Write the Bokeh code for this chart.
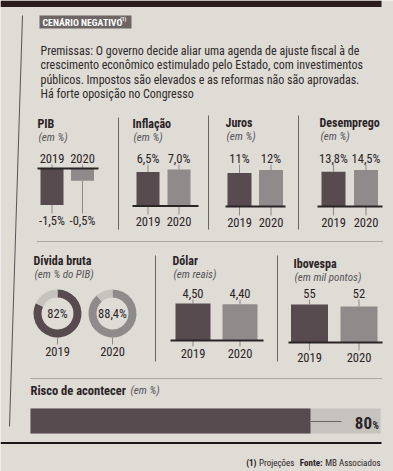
from bokeh.plotting import figure
from bokeh.models import Range1d
from bokeh.core.properties import value
from bokeh.embed import file_html
from bokeh.resources import INLINE
import math

# ---------------- data ----------------
years = ["2019", "2020"]
pib = [-1.5, -0.5]
inflacao = [6.5, 7.0]
juros = [11, 12]
desemprego = [13.8, 14.5]
divida = [82.0, 88.4]
dolar = [4.50, 4.40]
ibovespa = [55, 52]
risco = 80

paragraph = [
    "Premissas: O governo decide aliar uma agenda de ajuste fiscal à de",
    "crescimento econômico estimulado pelo Estado, com investimentos",
    "públicos. Impostos são elevados e as reformas não são aprovadas.",
    "Há forte oposição no Congresso",
]

def br(v, d=1, pct=True):
    s = f"{v:.{d}f}".replace(".", ",")
    return s + ("%" if pct else "")

# ---------------- style ----------------
BG = "#dfdbd5"
DARK = "#574b4f"
LIGHT = "#8f8b8a"
PALE = "#c6c2be"
INK = "#2a2426"
FONT = value("Roboto Condensed, DejaVu Sans Condensed, Roboto")

p = figure(width=393, height=471, output_backend="svg", toolbar_location=None,
           x_range=Range1d(0, 393), y_range=Range1d(471, 0), min_border=0)
p.axis.visible = False
p.grid.visible = False
p.outline_line_color = None
p.background_fill_color = BG
p.border_fill_color = BG

def txt(x, y, t, size=12, style="normal", color=INK, align="left", baseline="middle"):
    p.text(x=[x], y=[y], text=[t], text_font=FONT, text_font_size=f"{size}px",
           text_font_style=style, text_color=color, text_align=align,
           text_baseline=baseline)

# dark strip at the top of the page
p.quad(left=[0], right=[381], top=[0], bottom=[6.5], fill_color="#2b1c1d", line_color=None)

# header box
p.quad(left=[39], right=[131], top=[15], bottom=[28], fill_color="#6c6564", line_color=None)
txt(42, 21.8, "CENÁRIO NEGATIVO", size=9.8, style="bold", color="white")
txt(119.5, 18.6, "(1)", size=5.5, style="bold", color="white", align="left")

for i, line in enumerate(paragraph):
    txt(40, 50 + i * 14.5, line, size=12, color="#2e2a2a")

# left rule (slightly slanted as in the photo)
p.line(x=[22, 9], y=[15, 426], line_color="#555", line_width=1)

# separators
for x0, y0, y1 in [(118, 117, 229), (208, 115, 229), (298, 115, 229),
                   (155, 255, 361), (277, 255, 361)]:
    p.line(x=[x0, x0], y=[y0, y1], line_color="#666", line_width=1)
p.line(x=[37, 382], y=[241, 241], line_color="#777", line_width=1, line_dash="1 1")
p.line(x=[30, 381], y=[378, 378], line_color="#777", line_width=1, line_dash="1 1")

def heading(x, y, title, sub):
    txt(x, y, title, size=12, style="bold")
    txt(x + 1, y + 14, sub, size=11, style="italic", color="#555")

def bar_panel(vals, labels, centers, width, base_y, bx0, bx1, top_y, bot_y, maxh=36.5):
    k = maxh / max(abs(v) for v in vals)
    ends = [base_y - v * k for v in vals]
    p.vbar(x=centers, width=width, bottom=[base_y] * 2, top=ends,
           fill_color=[DARK, LIGHT], line_color=None)
    neg = vals[0] < 0
    if neg:
        p.segment(x0=centers, y0=[top_y + 6] * 2, x1=centers, y1=[base_y] * 2,
                  line_color="#777", line_width=0.8)
        p.segment(x0=centers, y0=ends, x1=centers, y1=[bot_y - 7] * 2,
                  line_color="#777", line_width=0.8)
        for c, yr in zip(centers, years):
            txt(c, top_y, yr, size=12.5, align="center")
        for c, lab in zip(centers, labels):
            txt(c, bot_y, lab, size=12.5, align="center")
    else:
        p.segment(x0=centers, y0=[top_y + 6] * 2, x1=centers, y1=ends,
                  line_color="#777", line_width=0.8)
        p.segment(x0=centers, y0=[base_y] * 2, x1=centers, y1=[bot_y - 7] * 2,
                  line_color="#777", line_width=0.8)
        for c, lab in zip(centers, labels):
            txt(c, top_y, lab, size=12.5, align="center")
        for c, yr in zip(centers, years):
            txt(c, bot_y, yr, size=12.5, align="center")
    p.line(x=[bx0, bx1], y=[base_y, base_y], line_color=INK, line_width=2)

# row 1
heading(37, 123, "PIB", "(em %)")
bar_panel(pib, [br(v) for v in pib], [51.5, 82], 23, 168, 37, 98, 158, 220)

heading(132, 123, "Inflação", "(em %)")
bar_panel(inflacao, [br(v) for v in inflacao], [147.5, 178.5], 23, 205.5, 132, 198, 158, 221)

heading(225, 122, "Juros", "(em %)")
bar_panel(juros, [br(v, 0) for v in juros], [239, 270.5], 24, 206, 225, 285, 158, 222)

heading(319, 122, "Desemprego", "(em %)")
bar_panel(desemprego, [br(v) for v in desemprego], [333, 365.5], 24, 206, 317, 382, 158, 222)

# row 2 : donuts (angles are screen angles, counter-clockwise from 3 o'clock)
heading(33, 260, "Dívida bruta", "(em % do PIB)")
dcent = [57, 112]
dy = 313
for c, v, col in zip(dcent, divida, [DARK, LIGHT]):
    frac = v / 100.0
    top = math.pi / 2
    p.annular_wedge(x=[c], y=[dy], inner_radius=16, outer_radius=24,
                    start_angle=top - 2 * math.pi * frac, end_angle=top,
                    direction="anticlock", fill_color=col, line_color=None)
    p.annular_wedge(x=[c], y=[dy], inner_radius=16, outer_radius=24,
                    start_angle=top, end_angle=top + 2 * math.pi * (1 - frac),
                    direction="anticlock", fill_color=PALE, line_color=None)
    txt(c, dy, br(v, 0 if v == int(v) else 1), size=12.5, align="center")
p.segment(x0=dcent, y0=[dy + 24] * 2, x1=dcent, y1=[dy + 31] * 2, line_color="#777", line_width=0.8)
for c, yr in zip(dcent, years):
    txt(c, 351, yr, size=12.5, align="center")

heading(172, 260, "Dólar", "(em reais)")
bar_panel(dolar, [br(v, 2, False) for v in dolar], [192.5, 239.5], 35, 340, 170, 263, 293, 353, maxh=37)

heading(293, 263, "Ibovespa", "(em mil pontos)")
bar_panel(ibovespa, [br(v, 0, False) for v in ibovespa], [309, 358.5], 37, 342, 288, 382, 293, 357, maxh=38)

# risk bar
txt(30, 390, "Risco de acontecer", size=12.5, style="bold")
txt(130, 390, "(em %)", size=11, style="italic", color="#555")
x0, x1 = 30, 380
p.quad(left=[x0], right=[x1], top=[408], bottom=[433], fill_color=PALE, line_color=None)
rx = x0 + (x1 - x0) * risco / 100
p.quad(left=[x0], right=[rx], top=[408], bottom=[433], fill_color=DARK, line_color=None)
p.segment(x0=[rx], y0=[421], x1=[rx + 31], y1=[421], line_color="#666", line_width=1)
txt(371.5, 422, str(risco), size=17, style="bold", align="right")
txt(372, 424.5, "%", size=10, style="bold", align="left")

# bottom rule and footer
p.line(x=[0, 381], y=[442.5, 442.5], line_color="#1b1718", line_width=2.2)
txt(256, 462, "(1)", size=9, style="bold", align="right")
txt(258.5, 462, "Projeções", size=9)
txt(322, 462, "Fonte:", size=9, style="bold", align="right")
txt(380, 462, "MB Associados", size=9, align="right")

open("out.html", "w").write(file_html(p, INLINE))
